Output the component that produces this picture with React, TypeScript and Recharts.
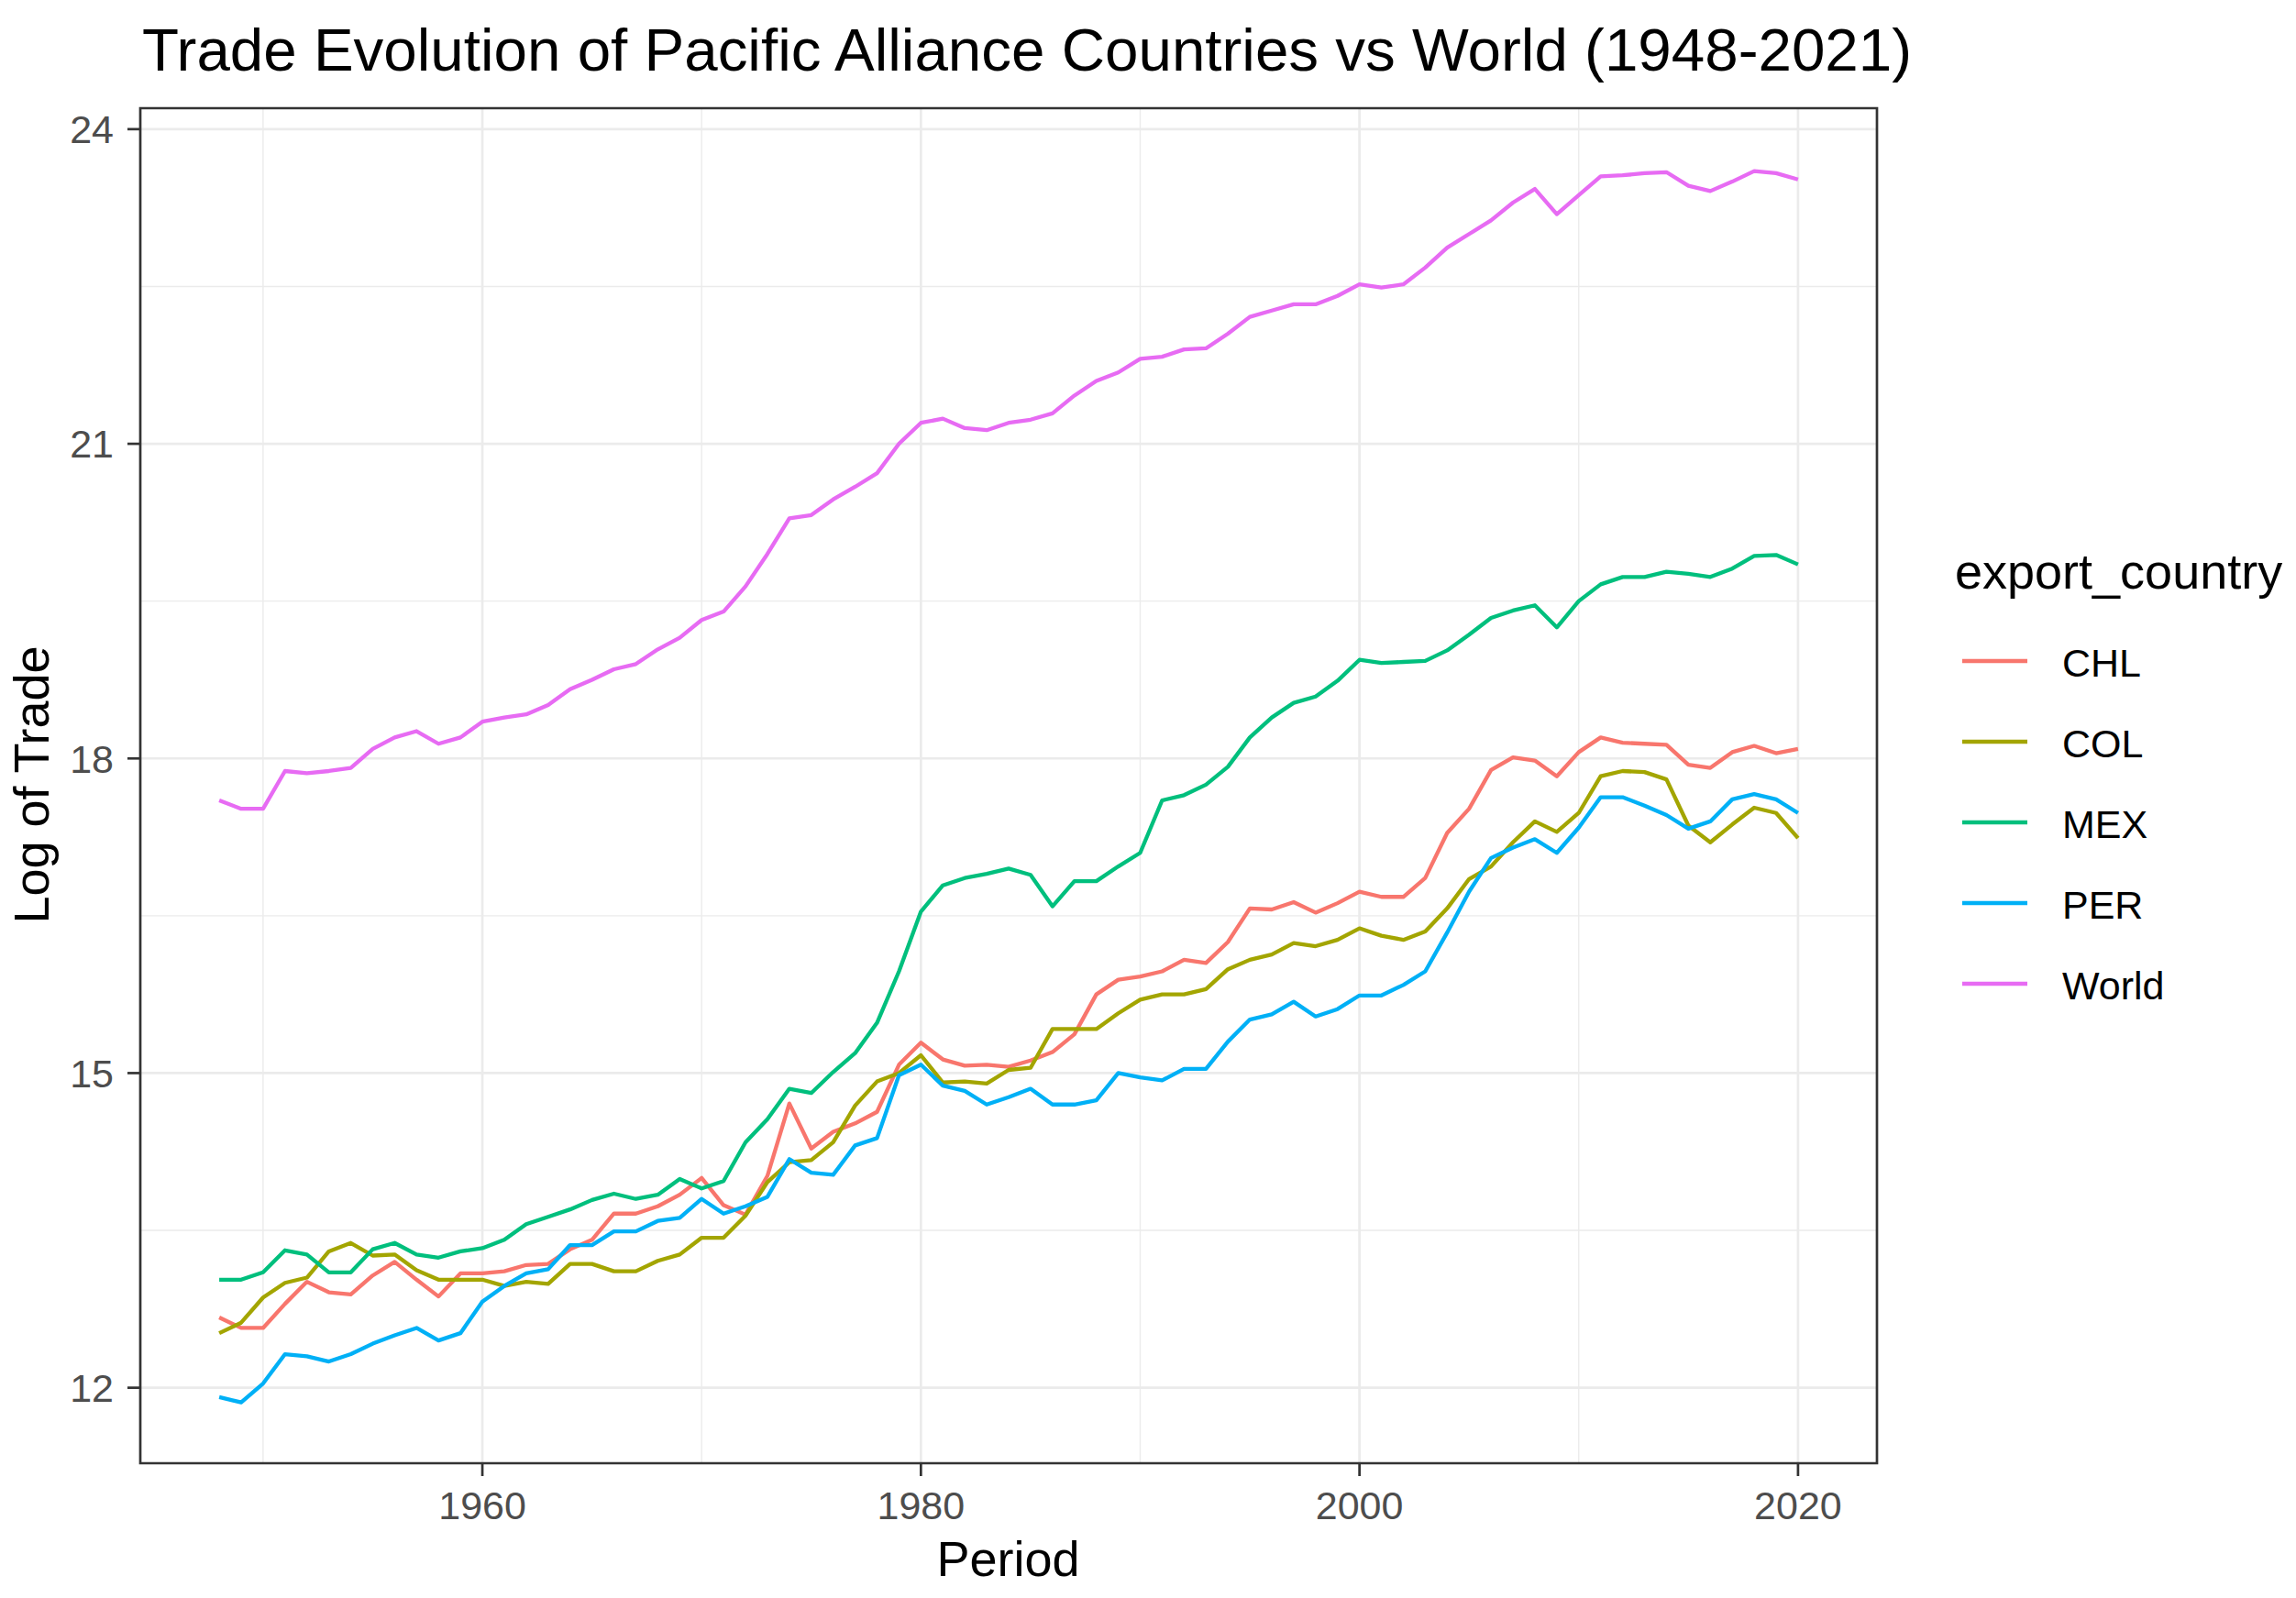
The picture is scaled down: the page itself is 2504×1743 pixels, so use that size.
import React from "react";
import { LineChart, Line, XAxis, YAxis, CartesianGrid, ReferenceArea } from "recharts";

const years = [
  1948, 1949, 1950, 1951, 1952, 1953, 1954, 1955, 1956, 1957, 1958, 1959,
  1960, 1961, 1962, 1963, 1964, 1965, 1966, 1967, 1968, 1969, 1970, 1971,
  1972, 1973, 1974, 1975, 1976, 1977, 1978, 1979, 1980, 1981, 1982, 1983,
  1984, 1985, 1986, 1987, 1988, 1989, 1990, 1991, 1992, 1993, 1994, 1995,
  1996, 1997, 1998, 1999, 2000, 2001, 2002, 2003, 2004, 2005, 2006, 2007,
  2008, 2009, 2010, 2011, 2012, 2013, 2014, 2015, 2016, 2017, 2018, 2019, 2020,
];

const chl = [
  12.67, 12.57, 12.57, 12.8, 13.01, 12.91, 12.89, 13.07, 13.2, 13.03, 12.87, 13.09,
  13.09, 13.11, 13.17, 13.18, 13.32, 13.41, 13.66, 13.66, 13.73, 13.84, 14.0, 13.74,
  13.65, 14.02, 14.71, 14.28, 14.44, 14.52, 14.63, 15.08, 15.29, 15.13, 15.07, 15.08,
  15.06, 15.12, 15.2, 15.37, 15.75, 15.89, 15.92, 15.97, 16.08, 16.05, 16.25, 16.57,
  16.56, 16.63, 16.53, 16.62, 16.73, 16.68, 16.68, 16.86, 17.29, 17.52, 17.89, 18.01,
  17.98, 17.83, 18.06, 18.2, 18.15, 18.14, 18.13, 17.94, 17.91, 18.06, 18.12, 18.05, 18.09,
];

const col = [
  12.52, 12.62, 12.86, 13.0, 13.05, 13.3, 13.38, 13.26, 13.27, 13.12, 13.03, 13.03,
  13.03, 12.97, 13.01, 12.99, 13.18, 13.18, 13.11, 13.11, 13.21, 13.27, 13.43, 13.43,
  13.64, 13.96, 14.15, 14.17, 14.34, 14.69, 14.92, 15.0, 15.17, 14.91, 14.92, 14.9,
  15.03, 15.05, 15.42, 15.42, 15.42, 15.57, 15.7, 15.75, 15.75, 15.8, 15.99, 16.08,
  16.13, 16.24, 16.21, 16.27, 16.38, 16.31, 16.27, 16.35, 16.57, 16.85, 16.97, 17.2,
  17.4, 17.3, 17.48, 17.83, 17.88, 17.87, 17.8, 17.36, 17.2, 17.37, 17.53, 17.48, 17.24,
];

const mex = [
  13.03, 13.03, 13.1, 13.31, 13.27, 13.1, 13.1, 13.32, 13.38, 13.27, 13.24, 13.3,
  13.33, 13.41, 13.56, 13.63, 13.7, 13.79, 13.85, 13.8, 13.84, 13.99, 13.9, 13.97,
  14.34, 14.56, 14.85, 14.81, 15.01, 15.19, 15.48, 15.97, 16.54, 16.79, 16.86, 16.9,
  16.95, 16.89, 16.59, 16.83, 16.83, 16.97, 17.1, 17.6, 17.65, 17.75, 17.92, 18.2,
  18.39, 18.53, 18.59, 18.74, 18.94, 18.91, 18.92, 18.93, 19.03, 19.18, 19.34, 19.41,
  19.46, 19.25, 19.5, 19.66, 19.73, 19.73, 19.78, 19.76, 19.73, 19.81, 19.93, 19.94, 19.85,
];

const per = [
  11.91, 11.86, 12.04, 12.32, 12.3, 12.25, 12.32, 12.42, 12.5, 12.57, 12.45, 12.52,
  12.82, 12.97, 13.09, 13.13, 13.36, 13.36, 13.49, 13.49, 13.59, 13.62, 13.8, 13.66,
  13.73, 13.82, 14.18, 14.05, 14.03, 14.31, 14.38, 14.98, 15.08, 14.88, 14.83, 14.7,
  14.77, 14.85, 14.7, 14.7, 14.74, 15.0, 14.96, 14.93, 15.04, 15.04, 15.3, 15.51,
  15.56, 15.68, 15.54, 15.61, 15.74, 15.74, 15.84, 15.97, 16.34, 16.73, 17.05, 17.15,
  17.23, 17.1, 17.34, 17.63, 17.63, 17.55, 17.46, 17.33, 17.4, 17.61, 17.66, 17.61, 17.48,
];

const world = [
  17.6, 17.52, 17.52, 17.88, 17.86, 17.88, 17.91, 18.09, 18.2, 18.26, 18.14, 18.2,
  18.35, 18.39, 18.42, 18.51, 18.66, 18.75, 18.85, 18.9, 19.04, 19.15, 19.32, 19.4,
  19.64, 19.95, 20.29, 20.32, 20.47, 20.59, 20.72, 21.0, 21.2, 21.24, 21.15, 21.13,
  21.2, 21.23, 21.29, 21.46, 21.6, 21.68, 21.81, 21.83, 21.9, 21.91, 22.05, 22.21,
  22.27, 22.33, 22.33, 22.41, 22.52, 22.49, 22.52, 22.68, 22.87, 23.0, 23.13, 23.3,
  23.43, 23.19, 23.37, 23.55, 23.56, 23.58, 23.59, 23.46, 23.41, 23.5, 23.6, 23.58, 23.52,
];

const seriesNames = ["CHL", "COL", "MEX", "PER", "World"];
const seriesColors = ["#F8766D", "#A3A500", "#00BF7D", "#00B0F6", "#E76BF3"];
const seriesValues = [chl, col, mex, per, world];

const xMajorTicks = [1960, 1980, 2000, 2020];
const xMinorTicks = [1950, 1970, 1990, 2010];
const yMajorTicks = [12, 15, 18, 21, 24];
const yMinorTicks = [13.5, 16.5, 19.5, 22.5];

const xDomain = [1944.4, 2023.6];
const yDomain = [11.28, 24.2];

const titleText = "Trade Evolution of Pacific Alliance Countries vs World (1948-2021)";
const xTitle = "Period";
const yTitle = "Log of Trade";
const legendTitle = "export_country";

const data = years.map((y, i) => {
  const row: Record<string, number> = { year: y };
  seriesNames.forEach((n, k) => {
    row[n] = seriesValues[k][i];
  });
  return row;
});

const FONT = "'Liberation Sans', Arial, Helvetica, sans-serif";
const W = 2504;
const H = 1743;

export default function App() {
  return (
    <div style={{ position: "absolute", left: 0, top: 0, width: W, height: H, background: "#FFFFFF", fontFamily: FONT }}>
      <LineChart
        width={W}
        height={H}
        data={data}
        margin={{ top: 118, right: 457, bottom: 87, left: 33 }}
        style={{ fontFamily: FONT }}
      >
        <CartesianGrid
          horizontal={true}
          vertical={true}
          horizontalValues={yMinorTicks}
          verticalValues={xMinorTicks}
          stroke="#EBEBEB"
          strokeWidth={1.4}
          fill="none"
        />
        <CartesianGrid
          horizontal={true}
          vertical={true}
          horizontalValues={yMajorTicks}
          verticalValues={xMajorTicks}
          stroke="#EBEBEB"
          strokeWidth={2.7}
          fill="none"
        />
        <XAxis
          dataKey="year"
          type="number"
          domain={xDomain}
          allowDataOverflow={true}
          ticks={xMajorTicks}
          interval={0}
          height={60}
          axisLine={false}
          tickSize={14}
          tickMargin={16}
          tickLine={{ stroke: "#333333", strokeWidth: 2.7 }}
          tick={{ fill: "#4D4D4D", fontSize: 43, fontFamily: FONT }}
        />
        <YAxis
          type="number"
          domain={yDomain}
          allowDataOverflow={true}
          ticks={yMajorTicks}
          interval={0}
          width={120}
          axisLine={false}
          tickSize={14}
          tickMargin={15}
          tickLine={{ stroke: "#333333", strokeWidth: 2.7 }}
          tick={{ fill: "#4D4D4D", fontSize: 43, fontFamily: FONT }}
        />
        {seriesNames.map((n, k) => (
          <Line
            key={n}
            type="linear"
            dataKey={n}
            stroke={seriesColors[k]}
            strokeWidth={4.3}
            strokeLinejoin="round"
            dot={false}
            activeDot={false}
            isAnimationActive={false}
          />
        ))}
        <ReferenceArea
          x1={xDomain[0]}
          x2={xDomain[1]}
          y1={yDomain[0]}
          y2={yDomain[1]}
          fill="none"
          fillOpacity={0}
          stroke="#333333"
          strokeWidth={2.7}
          ifOverflow="visible"
        />
      </LineChart>
      <svg
        width={W}
        height={H}
        style={{ position: "absolute", left: 0, top: 0, pointerEvents: "none" }}
      >
        <text x={155} y={77} fontSize={65.5} fill="#000000" fontFamily={FONT} textLength={1930} lengthAdjust="spacing">
          {titleText}
        </text>
        <text x={1099.5} y={1719} fontSize={54} fill="#000000" fontFamily={FONT} textAnchor="middle">
          {xTitle}
        </text>
        <text
          x={53}
          y={856}
          fontSize={54}
          fill="#000000"
          fontFamily={FONT}
          textAnchor="middle"
          transform="rotate(-90 53 856)"
        >
          {yTitle}
        </text>
        <text x={2132} y={642} fontSize={54} fill="#000000" fontFamily={FONT}>
          {legendTitle}
        </text>
        {seriesNames.map((n, k) => (
          <g key={n}>
            <line
              x1={2140}
              x2={2211}
              y1={721 + k * 88}
              y2={721 + k * 88}
              stroke={seriesColors[k]}
              strokeWidth={4.3}
            />
            <text x={2249} y={721 + k * 88 + 17} fontSize={43} fill="#000000" fontFamily={FONT}>
              {n}
            </text>
          </g>
        ))}
      </svg>
    </div>
  );
}
